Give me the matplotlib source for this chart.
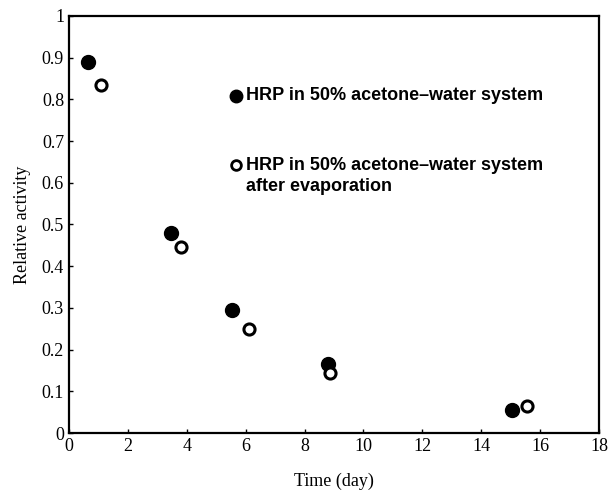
import matplotlib.pyplot as plt

# data
time_fresh = [0.65, 3.45, 5.55, 8.8, 15.05]
act_fresh = [0.89, 0.48, 0.295, 0.165, 0.055]
time_evap = [1.1, 3.8, 6.1, 8.85, 15.55]
act_evap = [0.835, 0.445, 0.25, 0.145, 0.065]

label_fresh = "HRP in 50% acetone\u2013water system"
label_evap = "HRP in 50% acetone\u2013water system\nafter evaporation"

fig = plt.figure(figsize=(6.1, 4.95), dpi=100)
ax = fig.add_axes([0.113, 0.125, 0.869, 0.843])

ax.plot(time_fresh, act_fresh, 'o', color='black', markersize=10)
ax.plot(time_evap, act_evap, 'o', markerfacecolor='white', markeredgecolor='black',
        markeredgewidth=2.2, markersize=8)

# in-plot key, as in the original
ax.plot([5.67], [0.808], 'o', color='black', markersize=9)
ax.text(6.0, 0.808, label_fresh, fontsize=13, fontweight='bold',
        family='Liberation Sans', va='center')
ax.plot([5.67], [0.643], 'o', markerfacecolor='white', markeredgecolor='black',
        markeredgewidth=2, markersize=7)
ax.text(6.0, 0.662, label_evap, fontsize=13, fontweight='bold',
        family='Liberation Sans', va='top', linespacing=1.3)

ax.set_xlim(0, 18)
ax.set_ylim(0, 1)
ax.set_xticks(range(0, 19, 2))
ax.set_yticks([i / 10 for i in range(11)])
ax.set_yticklabels(['0'] + [f'{i / 10:.1f}' for i in range(1, 10)] + ['1'])

for sp in ax.spines.values():
    sp.set_linewidth(1.6)
ax.tick_params(direction='in', length=3, width=1, labelsize=13)
for lab in ax.get_xticklabels() + ax.get_yticklabels():
    lab.set_family('Liberation Serif')

ax.set_xlabel('Time (day)', family='Liberation Serif', fontsize=13, labelpad=13)
ax.set_ylabel('Relative activity', family='Liberation Serif', fontsize=13, labelpad=8)

fig.savefig('out.png', dpi=100)
